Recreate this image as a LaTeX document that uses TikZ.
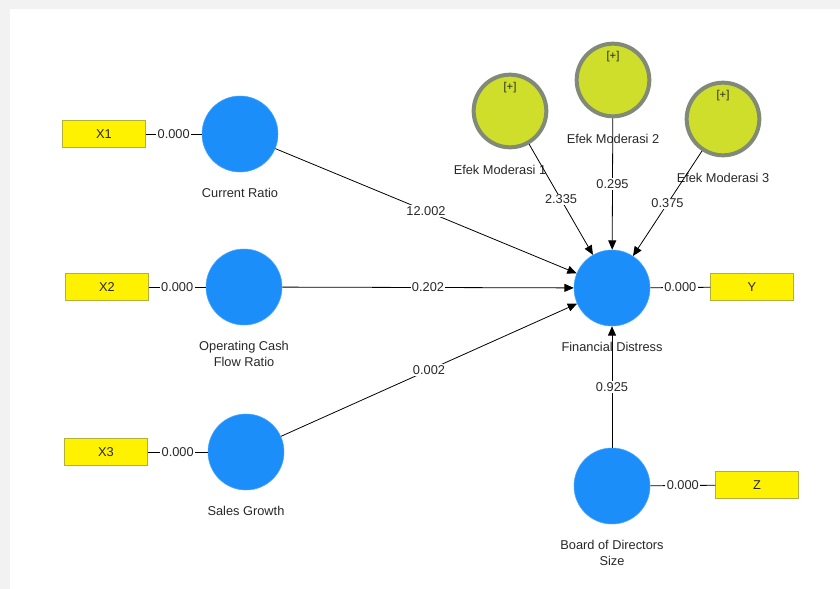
\documentclass[tikz,border=0pt]{standalone}
\usepackage{fontspec}
\setmainfont{Liberation Sans}
\usetikzlibrary{arrows.meta}

\definecolor{plsblue}{RGB}{28,142,250}
\definecolor{modgreen}{RGB}{206,222,42}
\definecolor{modgrey}{RGB}{128,138,118}
\definecolor{boxedge}{RGB}{176,176,60}
\definecolor{txtgrey}{RGB}{40,40,40}
\definecolor{frame}{RGB}{242,242,242}

\begin{document}
\begin{tikzpicture}[x=0.75pt,y=0.75pt,yscale=-1,xscale=1,
  font=\fontsize{9.6}{12}\selectfont, text=txtgrey,
  latent/.style={circle,fill=plsblue,draw=plsblue!80!white,minimum size=57pt,inner sep=0pt},
  moder/.style={circle,fill=modgreen,draw=modgrey,line width=3pt,minimum size=54.5pt,inner sep=0pt},
  indic/.style={rectangle,fill=yellow,draw=boxedge,minimum width=62pt,minimum height=20pt,inner sep=0pt},
  lbl/.style={align=center,inner sep=0pt,label distance=11.5pt},
  plus/.style={font=\fontsize{8.5}{9}\selectfont,inner sep=0pt,label distance=-15.5pt},
  effect/.style={-{Triangle[length=7pt,width=6pt]},line width=0.6pt,draw=black},
  load/.style={line width=0.6pt,draw=black},
  coef/.style={fill=white,inner sep=1pt}]
%set diagram size to 840 x 589
\useasboundingbox (0,0) rectangle (840,589);
\fill[frame] (0,0) rectangle (840,589);
\fill[white] (10,9) rectangle (840,589);

%Latent variables
\node[latent,label={[lbl]below:Current Ratio}] (CR) at (240,134) {};
\node[latent,label={[lbl]below:Operating Cash\\Flow Ratio}] (OCFR) at (244,287) {};
\node[latent,label={[lbl]below:Sales Growth}] (SG) at (246,452) {};
\node[latent,label={[lbl]below:Financial Distress}] (FD) at (612,288) {};
\node[latent,label={[lbl]below:Board of Directors\\Size}] (BDS) at (612,486) {};

%Moderating effects
\node[moder,label={[plus]above:{[+]}},label={[lbl,xshift=-7.5pt]below:Efek Moderasi 1}] (EM1) at (510,111) {};
\node[moder,label={[plus]above:{[+]}},label={[lbl]below:Efek Moderasi 2}] (EM2) at (613,80) {};
\node[moder,label={[plus]above:{[+]}},label={[lbl]below:Efek Moderasi 3}] (EM3) at (723,119) {};

%Indicators
\node[indic] (X1) at (104,134) {X1};
\node[indic] (X2) at (107,287) {X2};
\node[indic] (X3) at (106,452) {X3};
\node[indic] (Y) at (752,287) {Y};
\node[indic] (Z) at (757,485) {Z};

%Outer loadings
\draw[load] (X1) -- node[coef] {0.000} (CR);
\draw[load] (X2) -- node[coef] {0.000} (OCFR);
\draw[load] (X3) -- node[coef] {0.000} (SG);
\draw[load] (FD) -- node[coef] {0.000} (Y);
\draw[load] (BDS) -- node[coef] {0.000} (Z);

%Path coefficients
\draw[effect] (CR) -- node[coef] {12.002} (FD);
\draw[effect] (OCFR) -- node[coef] {0.202} (FD);
\draw[effect] (SG) -- node[coef] {0.002} (FD);
\draw[effect] (EM1) -- node[coef] {2.335} (FD);
\draw[effect] (EM2) -- node[coef] {0.295} (FD);
\draw[effect] (EM3) -- node[coef] {0.375} (FD);
\draw[effect] (BDS) -- node[coef] {0.925} (FD);

\end{tikzpicture}
\end{document}
